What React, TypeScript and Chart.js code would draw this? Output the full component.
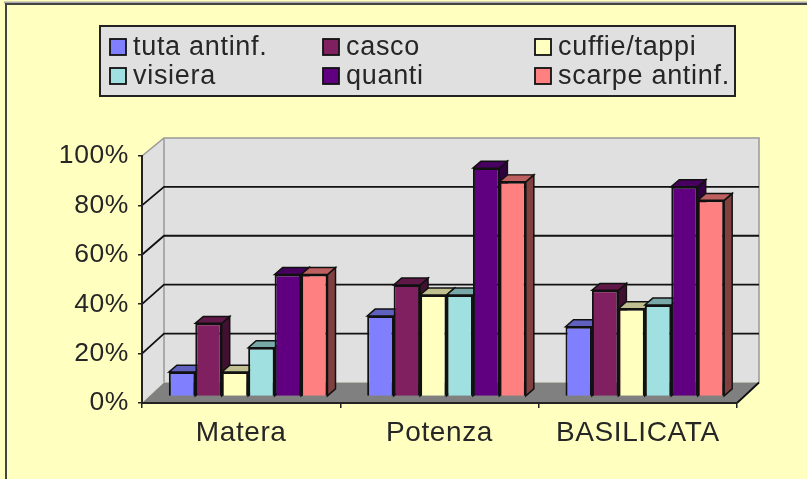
import React, { useEffect, useRef } from "react";
import { Chart, registerables } from "chart.js";

Chart.register(...registerables);

const categories = ["Matera", "Potenza", "BASILICATA"];
const seriesNames = ["tuta antinf.", "casco", "cuffie/tappi", "visiera", "quanti", "scarpe antinf."];
const tutaAntinf = [10, 33, 28.6];
const casco = [30, 45.7, 43.5];
const cuffieTappi = [10, 41.6, 36];
const visiera = [20, 41.6, 37.5];
const quanti = [50, 93.6, 86];
const scarpeAntinf = [50, 88, 80.4];
const seriesValues = [tutaAntinf, casco, cuffieTappi, visiera, quanti, scarpeAntinf];
const seriesColors = [[128, 128, 255], [128, 32, 96], [255, 255, 192], [160, 224, 224], [96, 0, 128], [255, 128, 128]];
const rgb = (c: number[], k = 1) => `rgb(${Math.round(c[0] * k)},${Math.round(c[1] * k)},${Math.round(c[2] * k)})`;

const TEXT = "#262626";
const FONT_FAMILY = "'Liberation Sans', Arial, sans-serif";

const backY = (y: number) => y * 0.99 - 16.5;
const WALL_DX = 22;
const BAR_SY = 0.98785, BAR_DY = -1.6, BAR_DX = 7;
const SIDE_DX = 8, SIDE_DY = 7;

const poly = (ctx: CanvasRenderingContext2D, pts: number[][], fill: string, stroke?: string, lw = 1) => {
  ctx.beginPath();
  pts.forEach((p, i) => (i ? ctx.lineTo(p[0], p[1]) : ctx.moveTo(p[0], p[1])));
  ctx.closePath();
  ctx.fillStyle = fill;
  ctx.fill();
  if (stroke) {
    ctx.strokeStyle = stroke;
    ctx.lineWidth = lw;
    ctx.stroke();
  }
};

const scene = {
  id: "scene",
  beforeDraw(chart: any) {
    const { ctx, width, height, chartArea: a, scales } = chart;
    const y = scales.y;
    ctx.letterSpacing = "0.6px";
    ctx.save();
    ctx.fillStyle = "#FFFFC0";
    ctx.fillRect(0, 0, width, height);
    ctx.fillStyle = "#aaa";
    ctx.fillRect(4, 1.5, width - 4, 2);
    ctx.fillStyle = "#444";
    ctx.fillRect(5, 3, width - 5, 2);
    ctx.fillRect(5, 3, 2, height - 3);
    const y0 = y.getPixelForValue(0), y100 = y.getPixelForValue(100);
    const bx0 = a.left + WALL_DX, bx1 = a.right + WALL_DX;
    poly(ctx, [[a.left, y0], [bx0, backY(y0)], [bx0, backY(y100)], [a.left, y100]], "#E0E0E0");
    poly(ctx, [[bx0, backY(y0)], [bx1, backY(y0)], [bx1, backY(y100)], [bx0, backY(y100)]], "#E0E0E0");
    poly(ctx, [[a.left, y0], [bx0, backY(y0)], [bx1, backY(y0)], [a.right, y0]], "#808080");
    ctx.strokeStyle = "#999";
    ctx.lineWidth = 1.5;
    ctx.beginPath();
    ctx.moveTo(a.left, y100);
    ctx.lineTo(bx0, backY(y100));
    ctx.lineTo(bx1, backY(y100));
    ctx.lineTo(bx1, backY(y0));
    ctx.moveTo(bx0, backY(y100));
    ctx.lineTo(bx0, backY(y0));
    ctx.stroke();
    ctx.strokeStyle = "#111";
    ctx.lineWidth = 1.8;
    ctx.beginPath();
    y.ticks.forEach((t: any) => {
      if (t.value === 0 || t.value === 100) return;
      const p = y.getPixelForValue(t.value);
      ctx.moveTo(a.left, p);
      ctx.lineTo(bx0, backY(p));
      ctx.lineTo(bx1, backY(p));
    });
    ctx.moveTo(a.right, y0);
    ctx.lineTo(bx1, backY(y0));
    ctx.stroke();
    ctx.restore();
  },
  beforeDatasetsDraw(chart: any) {
    const { ctx } = chart;
    ctx.save();
    ctx.transform(1, 0, 0, BAR_SY, BAR_DX, BAR_DY);
    // left-to-right, so each bar's front covers the side of the bar before it
    seriesNames.forEach((_, i) => {
      const meta = chart.getDatasetMeta(i);
      const c = seriesColors[i];
      meta.data.forEach((bar: any) => {
        const l = bar.x - bar.width / 2, r = bar.x + bar.width / 2;
        const t = bar.y, b = bar.base;
        poly(ctx, [[r, t], [r + SIDE_DX, t - SIDE_DY], [r + SIDE_DX, b - SIDE_DY], [r, b]], rgb(c, 0.5), "#111", 1.5);
        poly(ctx, [[l, t], [l + SIDE_DX, t - SIDE_DY], [r + SIDE_DX, t - SIDE_DY], [r, t]], rgb(c, 0.75), "#111", 1.5);
      });
      meta.controller.draw();
    });
    ctx.restore();
    return false;
  },
  afterDraw(chart: any) {
    const { ctx } = chart;
    ctx.save();
    const L = 100, T = 26, R = 735, B = 96;
    ctx.fillStyle = "#E0E0E0";
    ctx.fillRect(L, T, R - L, B - T);
    ctx.strokeStyle = "#222";
    ctx.lineWidth = 2;
    ctx.strokeRect(L, T, R - L, B - T);
    const xs = [110, 323, 535];
    const ys = [47, 76];
    ctx.letterSpacing = "0.7px";
    ctx.font = `27px ${FONT_FAMILY}`;
    ctx.textBaseline = "middle";
    ctx.textAlign = "left";
    chart.data.datasets.forEach((ds: any, i: number) => {
      const x = xs[i % 3], yy = ys[Math.floor(i / 3)];
      ctx.fillStyle = ds.backgroundColor;
      ctx.fillRect(x, yy - 8, 16, 16);
      ctx.strokeStyle = "#111";
      ctx.lineWidth = 1.8;
      ctx.strokeRect(x, yy - 8, 16, 16);
      ctx.fillStyle = TEXT;
      ctx.fillText(ds.label, x + 23, yy + 1);
    });
    ctx.restore();
  },
};

export default function App() {
  const ref = useRef<HTMLCanvasElement>(null);
  useEffect(() => {
    const chart = new Chart(ref.current!, {
      type: "bar",
      data: {
        labels: categories,
        datasets: seriesNames.map((label, i) => ({
          label,
          data: seriesValues[i],
          backgroundColor: rgb(seriesColors[i]),
          borderColor: "#111",
          borderWidth: 2,
          clip: false as any,
          categoryPercentage: 0.8,
          barPercentage: 1,
        })),
      },
      options: {
        responsive: false,
        animation: false,
        layout: { padding: { top: 156, right: 70, left: 0, bottom: 0 } },
        plugins: { legend: { display: false }, tooltip: { enabled: false } },
        scales: {
          x: {
            grid: { drawOnChartArea: false, drawTicks: true, tickLength: 5, color: "#222", lineWidth: 1.5 },
            border: { color: "#222", width: 2 },
            ticks: { color: TEXT, padding: 8, maxRotation: 0, font: { size: 28, family: FONT_FAMILY } },
            afterFit: (s: any) => { s.height = 76; },
          },
          y: {
            min: 0,
            max: 100,
            grid: { drawOnChartArea: false, drawTicks: true, tickLength: 4, color: "#222", lineWidth: 1.5 },
            border: { color: "#222", width: 2 },
            ticks: {
              stepSize: 20,
              color: TEXT,
              padding: 9,
              font: { size: 26.5, family: FONT_FAMILY },
              callback: (v: any) => `${v}%`,
            },
            afterFit: (s: any) => { s.width = 142; },
          },
        },
      },
      plugins: [scene],
    });
    return () => chart.destroy();
  }, []);
  return (
    <div style={{ position: "fixed", left: 0, top: 0, width: 807, height: 479 }}>
      <canvas ref={ref} width={807} height={479} style={{ display: "block", filter: "blur(0.5px)" }} />
    </div>
  );
}
